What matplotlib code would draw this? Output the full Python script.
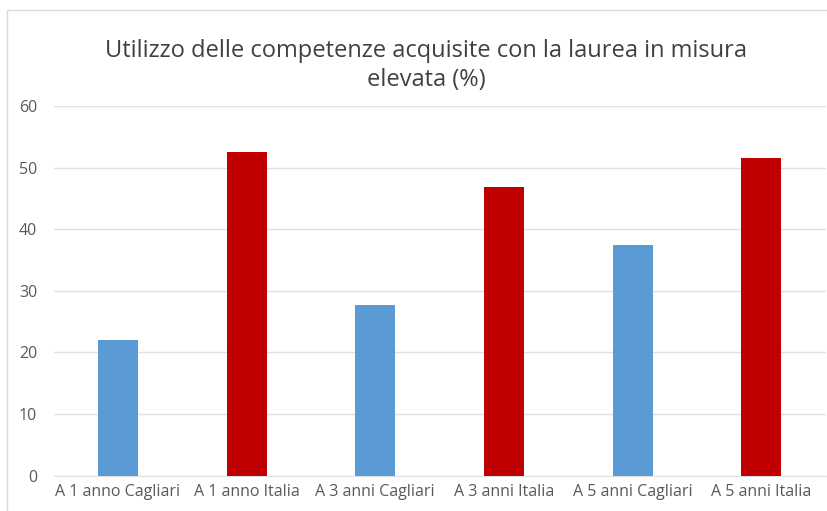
import matplotlib.pyplot as plt
from matplotlib.patches import Rectangle

plt.rcParams['font.family'] = ['Open Sans', 'DejaVu Sans']

categories = ['A 1 anno Cagliari', 'A 1 anno Italia', 'A 3 anni Cagliari',
              'A 3 anni Italia', 'A 5 anni Cagliari', 'A 5 anni Italia']
values = [22.1, 52.6, 27.7, 46.9, 37.4, 51.5]
colors = ['#5B9BD5', '#C00000', '#5B9BD5', '#C00000', '#5B9BD5', '#C00000']
yticks = [0, 10, 20, 30, 40, 50, 60]

fig = plt.figure(figsize=(8.28, 5.11), dpi=100)
# chart frame
fig.patches.append(Rectangle((7 / 828, -0.1), 1.2, (511 - 10) / 511 + 0.1,
                             transform=fig.transFigure, fill=False,
                             edgecolor='#D9D9D9', linewidth=1))

ax = fig.add_axes([0.0649, 0.069, 0.9321, 0.7236])
x = range(len(categories))
ax.bar(x, values, width=0.31, color=colors, zorder=3)

ax.set_ylim(0, 60)
ax.set_xlim(-0.5, len(categories) - 0.5)
ax.set_yticks(yticks)
ax.set_xticks(list(x))
ax.set_xticklabels(categories)
ax.grid(axis='y', color='#E0E0E0', linewidth=1, zorder=0)
for s in ax.spines.values():
    s.set_visible(False)
ax.spines['bottom'].set_visible(True)
ax.spines['bottom'].set_color('#E0E0E0')
ax.tick_params(length=0, colors='#595959', labelsize=11.5)
ax.tick_params(axis='y', pad=12)
ax.tick_params(axis='x', pad=6)

fig.text(0.515, 0.872, 'Utilizzo delle competenze acquisite con la laurea in misura\nelevata (%)',
         ha='center', va='center', fontsize=17, color='#404040', linespacing=1.25)

fig.savefig('out.png', dpi=100)
